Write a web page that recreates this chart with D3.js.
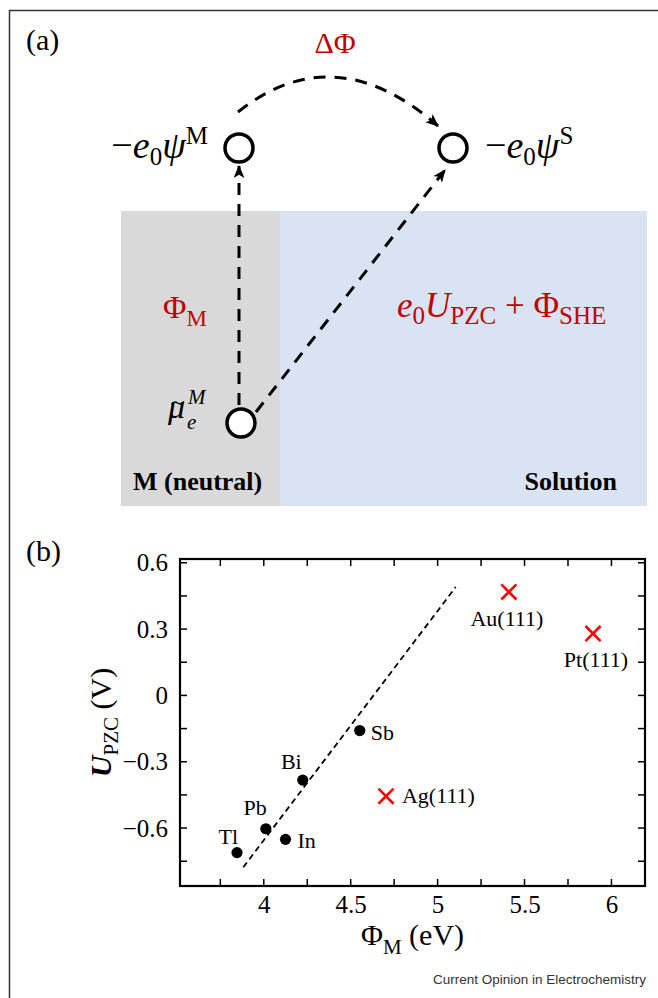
<!DOCTYPE html>
<html>
<head>
<meta charset="utf-8">
<script src="https://cdn.jsdelivr.net/npm/d3@7"></script>
<style>
  body { margin: 0; background: #fff; }
  svg { display: block; }
</style>
</head>
<body>
<div id="chart"></div>
<script>
// ---- panel (b) data ----
const metals = ["Tl", "Pb", "In", "Bi", "Sb"];
const metalWF = [3.846, 4.012, 4.125, 4.224, 4.552];
const metalPZC = [-0.711, -0.603, -0.651, -0.383, -0.159];
const surfaces = ["Au(111)", "Pt(111)", "Ag(111)"];
const surfWF = [5.41, 5.894, 4.703];
const surfPZC = [0.468, 0.28, -0.456];
const fitWF = [3.882, 5.104];
const fitPZC = [-0.777, 0.49];
const xTicks = [4, 4.5, 5, 5.5, 6];
const yTicks = [-0.6, -0.3, 0, 0.3, 0.6];
const xMinor = [3.75, 4.25, 4.75, 5.25, 5.75];
const yMinor = [-0.75, -0.45, -0.15, 0.15, 0.45];

// label offsets (layout only)
const metalLab = {Tl: [1, -9, "end"], Pb: [1, -14, "end"], In: [12, 9, "start"], Bi: [-1, -11, "end"], Sb: [11, 9, "start"]};
const surfLab = {"Au(111)": [-2, 34, "middle"], "Pt(111)": [3, 33, "middle"], "Ag(111)": [16, 7, "start"]};

const W = 658, H = 998;
const red = "#c00000";
const serif = "'Liberation Serif', 'Times New Roman', serif";

const svg = d3.select("#chart").append("svg")
  .attr("width", W).attr("height", H)
  .style("font-family", serif);

svg.append("rect").attr("width", W).attr("height", H).attr("fill", "#fff");

// outer frame (only top and left visible)
svg.append("path").attr("d", "M9.5," + H + "V10.5H" + W)
  .attr("fill", "none").attr("stroke", "#333").attr("stroke-width", 1.5);

// rich text helper: parts = [[text, {size, dx, dy, style, weight}]]
function rich(g, x, y, parts, opts) {
  const t = g.append("text").attr("x", x).attr("y", y)
    .attr("text-anchor", opts.anchor || "start")
    .attr("fill", opts.fill || "#000");
  parts.forEach(p => {
    const o = p[1] || {};
    t.append("tspan").text(p[0])
      .attr("dx", o.dx || 0)
      .attr("dy", o.dy || 0)
      .attr("font-size", o.size || opts.size)
      .attr("font-style", o.style || "normal")
      .attr("font-weight", o.weight || "normal");
  });
  return t;
}

// ================= panel (a) =================
const a = svg.append("g");

a.append("rect").attr("x", 121).attr("y", 211).attr("width", 159).attr("height", 295).attr("fill", "#d9d9d9");
a.append("rect").attr("x", 280).attr("y", 211).attr("width", 367).attr("height", 295).attr("fill", "#dae3f3");

const defs = svg.append("defs");
defs.append("marker").attr("id", "ah")
  .attr("viewBox", "0 0 12 10").attr("refX", 11).attr("refY", 5)
  .attr("markerWidth", 13).attr("markerHeight", 11)
  .attr("markerUnits", "userSpaceOnUse").attr("orient", "auto")
  .append("path").attr("d", "M0,0L12,5L0,10L3,5Z").attr("fill", "#000");

const nodes = {M: [239, 148], S: [453, 148], mu: [241, 423]};

const arrows = [
  "M239,405L239,166",
  "M256,412L445,170",
  "M238,112Q334.5,35.5 438,126"
];
a.selectAll("path.arr").data(arrows).enter().append("path")
  .attr("class", "arr").attr("d", d => d)
  .attr("fill", "none").attr("stroke", "#000").attr("stroke-width", 3)
  .attr("stroke-dasharray", "12,9").attr("marker-end", "url(#ah)");

a.selectAll("circle.node").data(Object.values(nodes)).enter().append("circle")
  .attr("class", "node").attr("cx", d => d[0]).attr("cy", d => d[1]).attr("r", 14)
  .attr("fill", "#fff").attr("stroke", "#000").attr("stroke-width", 3.5);

rich(a, 26, 50, [["(a)"]], {size: 30});

rich(a, 208, 158, [["\u2212"], ["e", {style: "italic"}], ["0", {size: 25, dy: 7}], ["\u03c8", {style: "italic", dy: -7}], ["M", {size: 25, dy: -14}]], {size: 38, anchor: "end"});
rich(a, 485, 158, [["\u2212"], ["e", {style: "italic"}], ["0", {size: 25, dy: 7}], ["\u03c8", {style: "italic", dy: -7}], ["S", {size: 25, dy: -14}]], {size: 38});

rich(a, 335, 53, [["\u0394\u03a6"]], {size: 30, anchor: "middle", fill: red});
rich(a, 163, 318, [["\u03a6"], ["M", {size: 23, dy: 8}]], {size: 32, fill: red});
rich(a, 397, 317, [["e", {style: "italic"}], ["0", {size: 25, dy: 7}], ["U", {style: "italic", dy: -7}], ["PZC", {size: 25, dy: 7}], [" + \u03a6", {dy: -7}], ["SHE", {size: 25, dy: 7}]], {size: 35, fill: red});

// tilde-mu with sub e and sup M
rich(a, 168, 418, [["\u03bc", {style: "italic"}]], {size: 34});
a.append("path").attr("d", "M171.5,404.5q2.5,-4 6,-1.5t6.5,-1.5")
  .attr("fill", "none").attr("stroke", "#000").attr("stroke-width", 1.4);
rich(a, 187, 429, [["e", {style: "italic"}]], {size: 21});
rich(a, 188, 404, [["M", {style: "italic"}]], {size: 21});

rich(a, 133, 490, [["M (neutral)", {weight: "bold"}]], {size: 26});
rich(a, 617, 490, [["Solution", {weight: "bold"}]], {size: 26, anchor: "end"});

// ================= panel (b) =================
const pL = 180, pR = 645, pT = 559, pB = 886;
const x = d3.scaleLinear().domain([3.518, 6.193]).range([pL, pR]);
const y = d3.scaleLinear().domain([-0.862, 0.617]).range([pB, pT]);

const b = svg.append("g");
rich(b, 26, 561, [["(b)"]], {size: 30});

const tk = 7;
const fmtY = d => d === 0 ? "0" : d3.format(".1f")(d);

b.append("g").attr("transform", "translate(0," + pB + ")")
  .call(d3.axisBottom(x).tickValues(xTicks).tickSize(0).tickPadding(9).tickFormat(d3.format("~g")))
  .call(g => g.select(".domain").remove())
  .call(g => g.selectAll("text").attr("font-family", serif).attr("font-size", 25).attr("fill", "#000"));

b.append("g").attr("transform", "translate(" + pL + ",0)")
  .call(d3.axisLeft(y).tickValues(yTicks).tickSize(0).tickPadding(12).tickFormat(fmtY))
  .call(g => g.select(".domain").remove())
  .call(g => g.selectAll("text").attr("font-family", serif).attr("font-size", 25).attr("fill", "#000"));

// inward ticks on all four sides
const tickG = b.append("g").attr("stroke", "#000").attr("stroke-width", 1.5);
const xt = xTicks.concat(xMinor), yt = yTicks.concat(yMinor);
tickG.selectAll("line.xb").data(xt).enter().append("line")
  .attr("x1", d => x(d)).attr("x2", d => x(d)).attr("y1", pB).attr("y2", pB - tk);
tickG.selectAll("line.xt").data(xt).enter().append("line")
  .attr("x1", d => x(d)).attr("x2", d => x(d)).attr("y1", pT).attr("y2", pT + tk);
tickG.selectAll("line.yl").data(yt).enter().append("line")
  .attr("y1", d => y(d)).attr("y2", d => y(d)).attr("x1", pL).attr("x2", pL + tk);
tickG.selectAll("line.yr").data(yt).enter().append("line")
  .attr("y1", d => y(d)).attr("y2", d => y(d)).attr("x1", pR).attr("x2", pR - tk);

b.append("rect").attr("x", pL).attr("y", pT).attr("width", pR - pL).attr("height", pB - pT)
  .attr("fill", "none").attr("stroke", "#000").attr("stroke-width", 2.2);

// fit line
b.append("path")
  .datum(fitWF.map((v, i) => [v, fitPZC[i]]))
  .attr("d", d3.line().x(d => x(d[0])).y(d => y(d[1])))
  .attr("fill", "none").attr("stroke", "#000").attr("stroke-width", 1.8).attr("stroke-dasharray", "6,4");

// metal points
const mData = metals.map((m, i) => ({name: m, wf: metalWF[i], pzc: metalPZC[i]}));
b.selectAll("circle.m").data(mData).enter().append("circle")
  .attr("class", "m").attr("cx", d => x(d.wf)).attr("cy", d => y(d.pzc)).attr("r", 5.6).attr("fill", "#000");
b.selectAll("text.m").data(mData).enter().append("text")
  .attr("class", "m").text(d => d.name)
  .attr("x", d => x(d.wf) + metalLab[d.name][0]).attr("y", d => y(d.pzc) + metalLab[d.name][1])
  .attr("text-anchor", d => metalLab[d.name][2]).attr("font-size", 22);

// single-crystal surfaces
const sData = surfaces.map((s, i) => ({name: s, wf: surfWF[i], pzc: surfPZC[i]}));
const cross = d3.symbol().type(d3.symbolX).size(150);
b.selectAll("path.s").data(sData).enter().append("path")
  .attr("class", "s").attr("d", cross)
  .attr("transform", d => "translate(" + x(d.wf) + "," + y(d.pzc) + ")")
  .attr("fill", "none").attr("stroke", "#ff0000").attr("stroke-width", 2.6);
b.selectAll("text.s").data(sData).enter().append("text")
  .attr("class", "s").text(d => d.name)
  .attr("x", d => x(d.wf) + surfLab[d.name][0]).attr("y", d => y(d.pzc) + surfLab[d.name][1])
  .attr("text-anchor", d => surfLab[d.name][2]).attr("font-size", 22);

// axis titles
rich(b, (pL + pR) / 2, 945, [["\u03a6"], ["M", {size: 21, dy: 9}], [" (eV)", {dy: -9}]], {size: 30, anchor: "middle"});
const yt2 = b.append("g").attr("transform", "translate(111," + (pT + pB) / 2 + ") rotate(-90)");
rich(yt2, 0, 0, [["U", {style: "italic", weight: "bold"}], ["PZC", {size: 21, dy: 7}], [" (V)", {dy: -7}]], {size: 30, anchor: "middle"});

svg.append("text").text("Current Opinion in Electrochemistry")
  .attr("x", 646).attr("y", 984).attr("text-anchor", "end")
  .attr("font-family", "'Liberation Sans', Arial, sans-serif").attr("font-size", 13.5).attr("fill", "#333");
</script>
</body>
</html>
